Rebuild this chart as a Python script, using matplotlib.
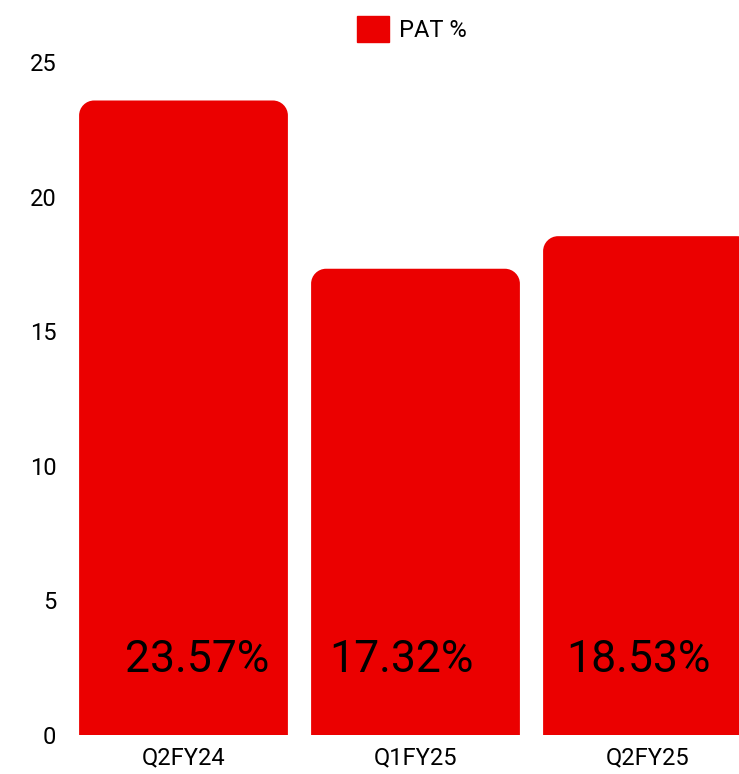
import matplotlib
matplotlib.use("Agg")
import matplotlib.pyplot as plt
from matplotlib.patches import PathPatch, Patch
from matplotlib.path import Path

categories = ["Q2FY24", "Q1FY25", "Q2FY25"]
pat_pct = [23.57, 17.32, 18.53]
value_labels = ["23.57%", "17.32%", "18.53%"]

BAR_COLOR = "#EB0000"
FONT = "Roboto"
FIG_W, FIG_H = 739, 774
BAR_WIDTH = 0.9
CORNER_PX = 15
K = 0.5523  # bezier quarter-circle constant


def rounded_top_bar(x0, x1, top, rx, ry):
    verts = [
        (x0, 0), (x0, top - ry),
        (x0, top - ry + K * ry), (x0 + rx - K * rx, top), (x0 + rx, top),
        (x1 - rx, top),
        (x1 - rx + K * rx, top), (x1, top - ry + K * ry), (x1, top - ry),
        (x1, 0), (x0, 0),
    ]
    codes = [Path.MOVETO, Path.LINETO,
             Path.CURVE4, Path.CURVE4, Path.CURVE4,
             Path.LINETO,
             Path.CURVE4, Path.CURVE4, Path.CURVE4,
             Path.LINETO, Path.CLOSEPOLY]
    return Path(verts, codes)


fig = plt.figure(figsize=(FIG_W / 100, FIG_H / 100), dpi=100)
ax_left, ax_right = 67.5, 763.5
ax_bottom, ax_top = 735, 62
ax = fig.add_axes([ax_left / FIG_W, 1 - ax_bottom / FIG_H,
                   (ax_right - ax_left) / FIG_W, (ax_bottom - ax_top) / FIG_H])

ymax = 25
ax.set_xlim(-0.5, len(categories) - 0.5)
ax.set_ylim(0, ymax)

px_per_x = (ax_right - ax_left) / len(categories)
px_per_y = (ax_bottom - ax_top) / ymax
rx = CORNER_PX / px_per_x
ry = CORNER_PX / px_per_y

for i, v in enumerate(pat_pct):
    path = rounded_top_bar(i - BAR_WIDTH / 2, i + BAR_WIDTH / 2, v, rx, ry)
    ax.add_patch(PathPatch(path, facecolor=BAR_COLOR, edgecolor="none"))

label_shift = [0.06, -0.06, -0.04]
for i, lab in enumerate(value_labels):
    ax.text(i + label_shift[i], 2.8, lab, ha="center", va="center",
            fontsize=32, family=FONT, color="black")

ax.set_xticks(range(len(categories)))
ax.set_xticklabels(categories, family=FONT, fontsize=17)
ax.set_yticks([0, 5, 10, 15, 20, 25])
ax.set_yticklabels(["0", "5", "10", "15", "20", "25"], family=FONT, fontsize=17)
ax.tick_params(length=0)
ax.tick_params(axis="y", pad=8)
ax.tick_params(axis="x", pad=8)
for s in ax.spines.values():
    s.set_visible(False)

fig.legend(handles=[Patch(color=BAR_COLOR, label="PAT %")], loc="center",
           bbox_to_anchor=(412 / FIG_W, 1 - 29 / FIG_H), frameon=False,
           prop={"family": FONT, "size": 17}, handlelength=1.35, handleheight=1.35,
           handletextpad=0.4)

fig.savefig("out.png", dpi=100)
